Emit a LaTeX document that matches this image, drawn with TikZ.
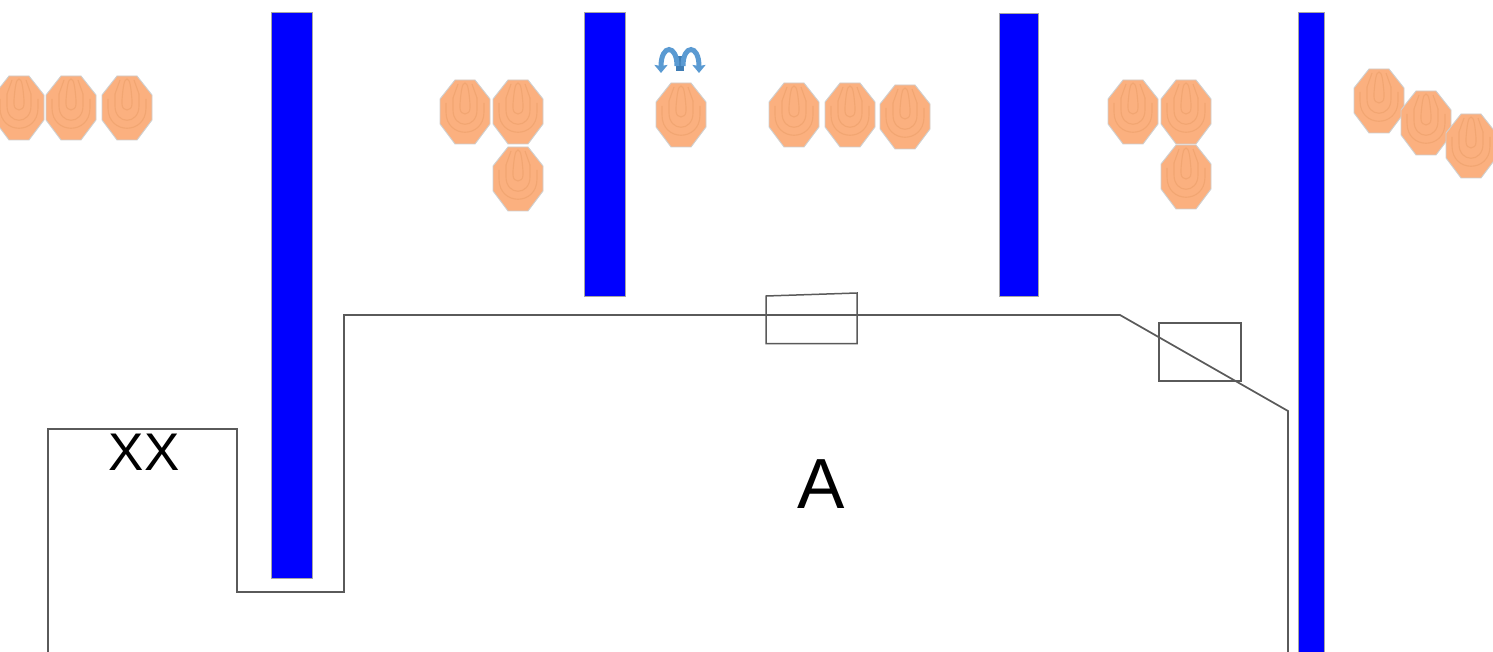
\documentclass[tikz,border=0pt]{standalone}
\usepackage{fontspec}
\setmainfont{Liberation Sans}
\usetikzlibrary{arrows.meta}
\definecolor{peach}{HTML}{FBB07F}
\definecolor{peachline}{HTML}{F2A672}
\definecolor{edgegrey}{HTML}{CFCFCF}
\definecolor{outlinegrey}{HTML}{5A5A5A}
\definecolor{arrowblue}{HTML}{5A9AD2}
\definecolor{arrowdark}{HTML}{3F7DB5}
\tikzset{
  x=1pt,y=-1pt,
  barfill/.style={fill=blue,draw=black!35,line width=0.8pt},
  outlinepath/.style={draw=outlinegrey,line width=1.7pt,line join=miter},
  boxpath/.style={draw=outlinegrey,line width=1.5pt},
  bigtext/.style={inner sep=0pt,font=\fontsize{#1}{#1}\selectfont,text=black},
  target/.pic={
    \path[fill=peach,draw=edgegrey,line width=0.9pt]
      (-10,-32)--(10,-32)--(25,-13)--(25,12)--(10,32)--(-10,32)--(-25,12)--(-25,-13)--cycle;
    \draw[peachline,line width=1.1pt] (-19,-9) -- (-19,0) .. controls (-19,27) and (19,27) .. (19,0) -- (19,-9);
    \draw[peachline,line width=1.1pt] (-12,-14) -- (-12,-2) .. controls (-12,17) and (12,17) .. (12,-2) -- (12,-14);
    \draw[peachline,line width=1.1pt] (-5,-8) .. controls (-4,-20) and (-3,-29) .. (0,-29) .. controls (3,-29) and (4,-20) .. (5,-8) -- (5,-4) .. controls (5,4) and (-5,4) .. (-5,-4) -- cycle;
    \draw[peachline,line width=1.1pt] (-12,-14) -- (-7,-28) (12,-14) -- (7,-28);
  }
}
\begin{document}
\begin{tikzpicture}
\useasboundingbox (0,0) rectangle (1493,652);
\clip (0,0) rectangle (1493,652);
\fill[white] (0,0) rectangle (1493,652);
% bars
\path[barfill] (271,12) rectangle (312,578);
\path[barfill] (584,12) rectangle (625,296);
\path[barfill] (999,13) rectangle (1038,296);
\path[barfill] (1298,12) rectangle (1324,653);
% outline
\path[outlinepath] (48,653) -- (48,429) -- (237,429) -- (237,592) -- (344,592) -- (344,315) -- (1120,315) -- (1288,411) -- (1288,653);
% small boxes
\path[boxpath] (766,296) -- (857,293) -- (857,343.500) -- (766,343.500) -- cycle;
\path[boxpath] (1159,323) rectangle (1241,381);
% labels
\node[bigtext=53] (xx) at (144,452) {XX};
\node[bigtext=71] (a) at (821,484) {A};
% targets
\foreach \px/\py in {19/108,71/108,127/108,465/112,518/112,518/179,681/115,794/115,850/115,905/117,1133/112,1186/112,1186/177,1379/101,1426/123,1471/146}{
  \pic at (\px,\py) {target};
}
% turn arrow
\draw[arrowdark,line width=8pt] (680,71) -- (680,56);
\draw[arrowblue,line width=5pt,-{Stealth[length=8pt,width=13pt,inset=1pt]}] (677,66) .. controls (677,44) and (661,44) .. (661,73);
\draw[arrowblue,line width=5pt,-{Stealth[length=8pt,width=13pt,inset=1pt]}] (683,66) .. controls (683,44) and (699,44) .. (699,73);
\end{tikzpicture}
\end{document}
